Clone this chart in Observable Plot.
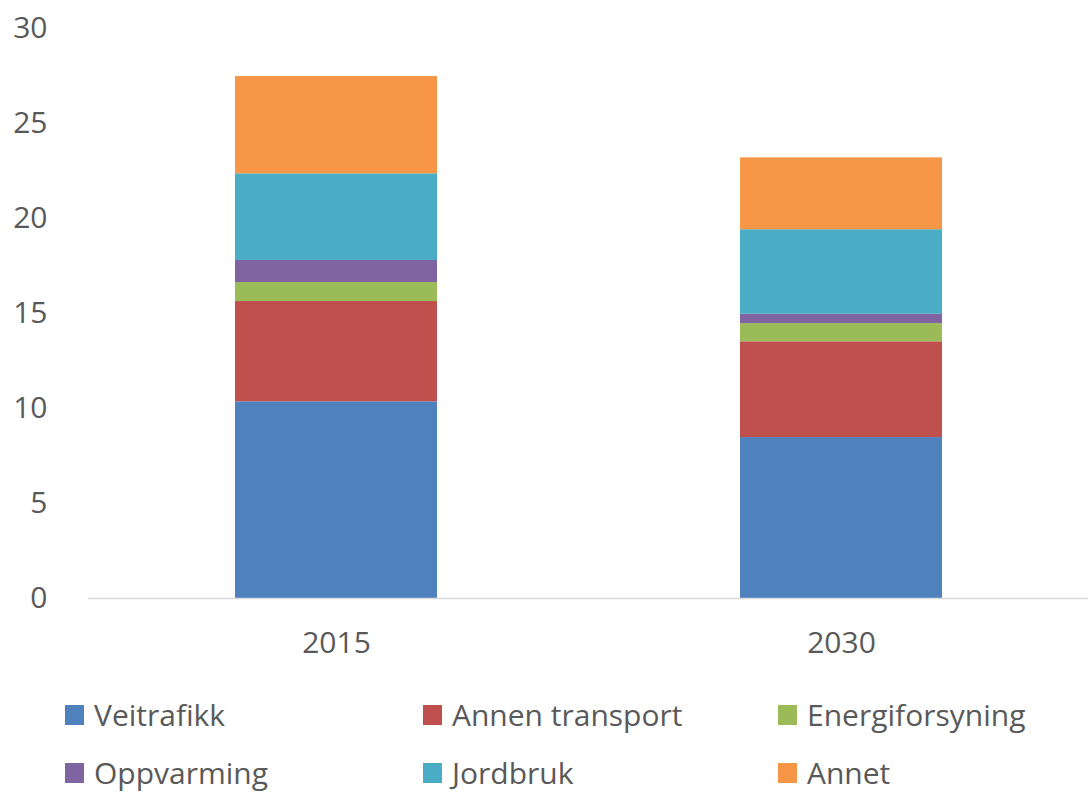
<!DOCTYPE html>
<html>
<head>
<meta charset="utf-8">
<script src="https://cdn.jsdelivr.net/npm/d3@7"></script>
<script src="https://cdn.jsdelivr.net/npm/@observablehq/plot@0.6"></script>
<style>
  body { margin: 0; background: #fff; font-family: "Open Sans", "Noto Sans", sans-serif; overflow: hidden; }
  #wrap { width: 1088px; position: relative; }
  #legend { display: grid; grid-template-columns: 358px 355px 300px; padding-left: 65px; row-gap: 22px; margin-top: 17px; }
  .item { display: flex; align-items: center; font-size: 30px; line-height: 36px; color: #595959; height: 36px; }
  .sw { width: 19px; height: 20px; margin-right: 10px; flex: none; }
</style>
</head>
<body>
<div id="wrap"><div id="chart"></div><div id="legend"></div></div>
<script>
const years = ["2015", "2030"];
const series = ["Veitrafikk", "Annen transport", "Energiforsyning", "Oppvarming", "Jordbruk", "Annet"];
const colors = ["#4f81bd", "#c0504d", "#9bbb59", "#8064a2", "#4bacc6", "#f79646"];
const veitrafikk = [10.35, 8.47];
const annenTransport = [5.28, 5.04];
const energiforsyning = [1.0, 0.96];
const oppvarming = [1.16, 0.49];
const jordbruk = [4.56, 4.45];
const annet = [5.12, 3.78];
const yTicks = [0, 5, 10, 15, 20, 25, 30];

const valuesBySeries = [veitrafikk, annenTransport, energiforsyning, oppvarming, jordbruk, annet];
const data = [];
series.forEach((s, i) => years.forEach((y, j) => data.push({year: y, series: s, value: valuesBySeries[i][j]})));

const chart = Plot.plot({
  width: 1088,
  height: 680,
  marginLeft: 88,
  marginRight: 0,
  marginTop: 28,
  marginBottom: 82,
  style: { fontFamily: "'Open Sans', 'Noto Sans', sans-serif", fontSize: "30px", color: "#595959", background: "#fff" },
  x: { domain: years, paddingInner: 0.6, paddingOuter: 0.29, label: null },
  y: { domain: [0, 30], label: null },
  color: { domain: series, range: colors },
  marks: [
    Plot.barY(data, Plot.stackY({ order: null }, { x: "year", y: "value", fill: "series" })),
    Plot.ruleY([0], { stroke: "#d9d9d9", strokeWidth: 1.5 }),
    Plot.axisY({ ticks: yTicks, tickSize: 0, tickPadding: 41, label: null, fill: "#595959" }),
    Plot.axisX({ tickSize: 0, tickPadding: 33, label: null, fill: "#595959" })
  ]
});
document.getElementById("chart").appendChild(chart);

const legend = document.getElementById("legend");
series.forEach((s, i) => {
  const it = document.createElement("div");
  it.className = "item";
  it.innerHTML = `<span class="sw" style="background:${colors[i]}"></span><span>${s}</span>`;
  legend.appendChild(it);
});
</script>
</body>
</html>
